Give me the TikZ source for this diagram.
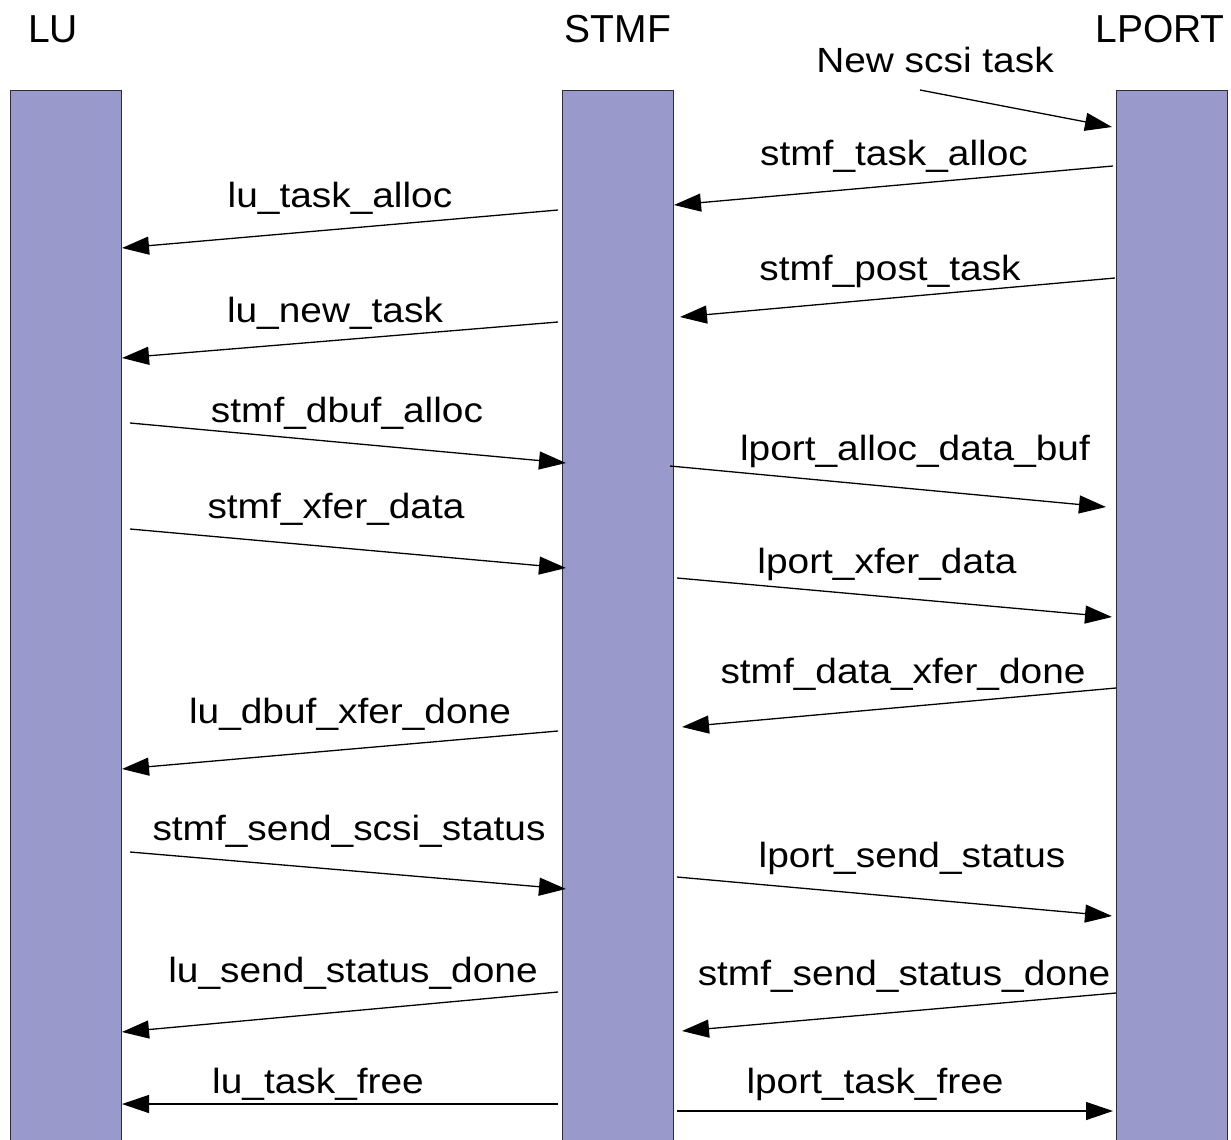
\documentclass[tikz,border=0pt]{standalone}
\usepackage{fontspec}
\setmainfont{Liberation Sans}
\usetikzlibrary{arrows.meta}
\definecolor{barfill}{RGB}{153,153,204}
\definecolor{barline}{RGB}{45,45,55}
\newcommand{\lbl}[1]{\scalebox{1.11}[1]{#1}}
\begin{document}
\begin{tikzpicture}[x=1pt,y=-1pt,
  bar/.style={draw=barline, line width=1.3pt, fill=barfill, inner sep=0pt,
    minimum width=111pt, minimum height=1070pt, anchor=north west},
  title/.style={font=\fontsize{39}{46}\selectfont, anchor=base, inner sep=0pt},
  lab/.style={font=\fontsize{35}{42}\selectfont, anchor=base, inner sep=0pt},
  msg/.style={line width=1.3pt, -{Triangle[length=27pt,width=18pt]}}]
\useasboundingbox (0,0) rectangle (1231,1140);
\fill[white] (0,0) rectangle (1231,1140);
\clip (0,0) rectangle (1231,1140);

% lifelines
\node[bar] (lu) at (10,90) {};
\node[bar] (stmf) at (562,90) {};
\node[bar] (lport) at (1116,90) {};

% titles
\node[title] (tlu) at (53,43) {LU};
\node[title] (tstmf) at (618,43) {STMF};
\node[title] (tlport) at (1160,43) {LPORT};

% labels
\node[lab] (l0) at (935,72) {\lbl{New scsi task}};
\node[lab] (l1) at (894,165) {\lbl{stmf\_task\_alloc}};
\node[lab] (l2) at (340,207) {\lbl{lu\_task\_alloc}};
\node[lab] (l3) at (890,280) {\lbl{stmf\_post\_task}};
\node[lab] (l4) at (335,322) {\lbl{lu\_new\_task}};
\node[lab] (l5) at (347,422) {\lbl{stmf\_dbuf\_alloc}};
\node[lab] (l6) at (915,460) {\lbl{lport\_alloc\_data\_buf}};
\node[lab] (l7) at (336,518) {\lbl{stmf\_xfer\_data}};
\node[lab] (l8) at (887,573) {\lbl{lport\_xfer\_data}};
\node[lab] (l9) at (903,683) {\lbl{stmf\_data\_xfer\_done}};
\node[lab] (l10) at (350,723) {\lbl{lu\_dbuf\_xfer\_done}};
\node[lab] (l11) at (349,840) {\lbl{stmf\_send\_scsi\_status}};
\node[lab] (l12) at (912,867) {\lbl{lport\_send\_status}};
\node[lab] (l13) at (353,982) {\lbl{lu\_send\_status\_done}};
\node[lab] (l14) at (904,985) {\lbl{stmf\_send\_status\_done}};
\node[lab] (l15) at (318,1093) {\lbl{lu\_task\_free}};
\node[lab] (l16) at (875,1093) {\lbl{lport\_task\_free}};

% message end points
\coordinate (a0s) at (920,90);   \coordinate (a0e) at (1112,127);
\coordinate (a1s) at (1113,166); \coordinate (a1e) at (674,205);
\coordinate (a2s) at (558,210);  \coordinate (a2e) at (122,248);
\coordinate (a3s) at (1115,278); \coordinate (a3e) at (680,317);
\coordinate (a4s) at (558,322);  \coordinate (a4e) at (122,358);
\coordinate (a5s) at (130,423);  \coordinate (a5e) at (566,463);
\coordinate (a6s) at (670,466);  \coordinate (a6e) at (1106,507);
\coordinate (a7s) at (130,529);  \coordinate (a7e) at (566,568);
\coordinate (a8s) at (677,578);  \coordinate (a8e) at (1112,617);
\coordinate (a9s) at (1116,688); \coordinate (a9e) at (682,727);
\coordinate (a10s) at (558,731); \coordinate (a10e) at (122,769);
\coordinate (a11s) at (130,852); \coordinate (a11e) at (566,889);
\coordinate (a12s) at (677,877); \coordinate (a12e) at (1112,916);
\coordinate (a13s) at (558,992); \coordinate (a13e) at (122,1032);
\coordinate (a14s) at (1116,993); \coordinate (a14e) at (682,1031);
\coordinate (a15s) at (558,1104); \coordinate (a15e) at (122,1104);
\coordinate (a16s) at (677,1111); \coordinate (a16e) at (1113,1111);

\foreach \i in {0,...,16}{\draw[msg] (a\i s) -- (a\i e);}
\end{tikzpicture}
\end{document}
